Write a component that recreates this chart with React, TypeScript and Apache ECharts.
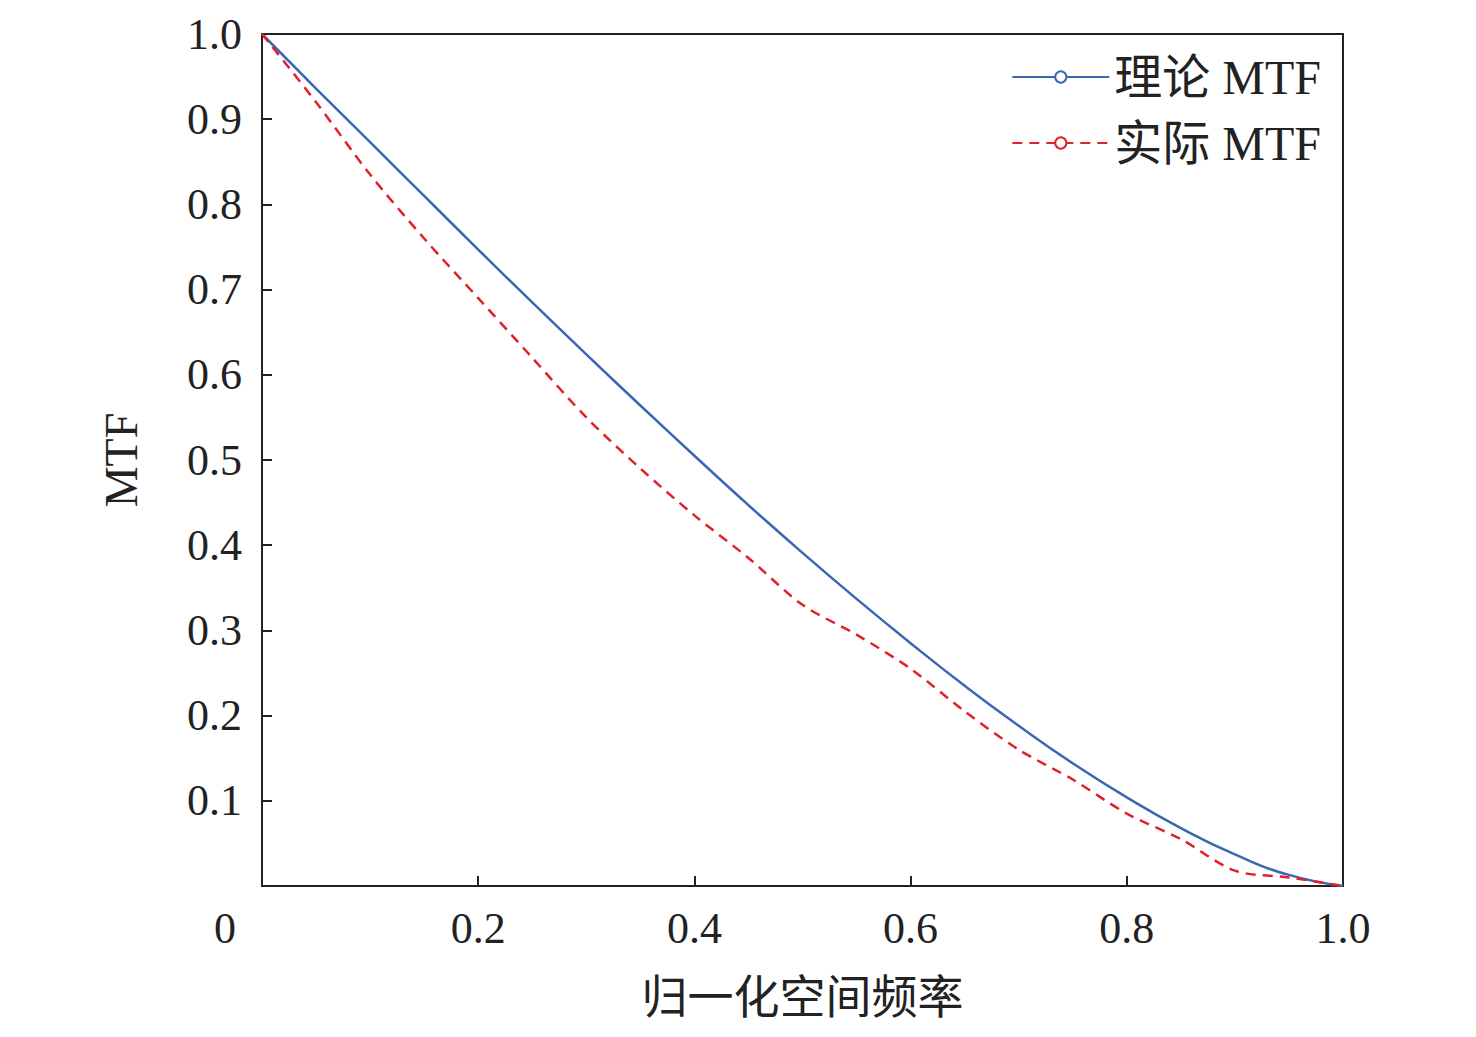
import React, { useEffect, useRef } from 'react';
import * as echarts from 'echarts';

const freqs = [0, 0.05, 0.1, 0.15, 0.2, 0.25, 0.3, 0.35, 0.4, 0.45, 0.5, 0.55, 0.6, 0.65, 0.7, 0.75, 0.8, 0.85, 0.9, 0.95, 1.0];
const theory = [1, 0.936, 0.873, 0.81, 0.747, 0.685, 0.624, 0.564, 0.505, 0.447, 0.391, 0.337, 0.285, 0.235, 0.188, 0.144, 0.104, 0.068, 0.037, 0.013, 0];
const actual = [1, 0.92, 0.835, 0.76, 0.69, 0.62, 0.55, 0.49, 0.435, 0.385, 0.33, 0.295, 0.255, 0.205, 0.16, 0.125, 0.085, 0.055, 0.018, 0.01, 0];
const seriesNames = ['理论 MTF', '实际 MTF'];

const serif = '"Liberation Serif", "Noto Sans CJK SC", serif';

const App: React.FC = () => {
  const chartRef = useRef<HTMLDivElement | null>(null);

  useEffect(() => {
    if (!chartRef.current) return;
    const chart = echarts.init(chartRef.current, null, { renderer: 'svg' });
    const axisCommon = {
      axisLine: { show: true, lineStyle: { color: '#222', width: 2 } },
      axisTick: { show: true, inside: true, length: 10, lineStyle: { color: '#222', width: 2 } },
      splitLine: { show: false },
      nameTextStyle: { fontFamily: serif, fontSize: 46, color: '#222' },
    };
    const option: echarts.EChartsOption = {
      animation: false,
      grid: { left: 262, right: 133, top: 34, bottom: 151, show: true, borderColor: '#222', borderWidth: 2 },
      legend: {
        right: 150, top: 48, orient: 'vertical', itemWidth: 97, itemHeight: 14, itemGap: 18,
        textStyle: { fontFamily: serif, fontSize: 48, color: '#222' },
        data: seriesNames,
      },
      xAxis: {
        type: 'value', min: 0, max: 1, interval: 0.2,
        name: '归一化空间频率', nameLocation: 'middle', nameGap: 88,
        axisLabel: {
          fontFamily: serif, fontSize: 44, color: '#222', margin: 20,
          formatter: (v: number) => (v === 0 ? '' : v.toFixed(1)),
        },
        ...axisCommon,
      },
      yAxis: {
        type: 'value', min: 0, max: 1, interval: 0.1,
        name: 'MTF', nameLocation: 'middle', nameGap: 118,
        axisLabel: {
          fontFamily: serif, fontSize: 44, color: '#222', margin: 20,
          formatter: (v: number) => (v === 0 ? '' : v.toFixed(1)),
        },
        ...axisCommon,
      },
      graphic: [
        { type: 'text', left: 214, top: 906, style: { text: '0', font: `44px ${serif}`, fill: '#222' } },
      ],
      series: [
        {
          name: seriesNames[0], type: 'line', showSymbol: false, smooth: true,
          lineStyle: { color: '#3a67b4', width: 2.5 }, itemStyle: { color: '#3a67b4' },
          data: freqs.map((f, i) => [f, theory[i]]),
        },
        {
          name: seriesNames[1], type: 'line', showSymbol: false, smooth: 0.3,
          lineStyle: { color: '#e0202a', width: 2.5, type: [10, 7] }, itemStyle: { color: '#e0202a' },
          data: freqs.map((f, i) => [f, actual[i]]),
        },
      ],
    };
    chart.setOption(option);
    return () => chart.dispose();
  }, []);

  return <div ref={chartRef} style={{ position: 'fixed', left: 0, top: 0, width: 1476, height: 1037, background: '#fff' }} />;
};

export default App;
